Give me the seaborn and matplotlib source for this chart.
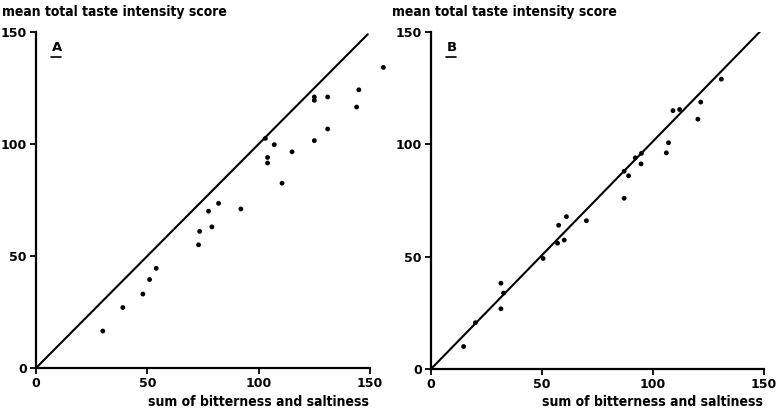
import matplotlib
matplotlib.use("Agg")
import matplotlib.pyplot as plt
import pandas as pd
import seaborn as sns
from matplotlib import font_manager

# panel A: observed points and the identity line
a_x = [30, 39, 48, 51, 54, 73, 73.5, 77.5, 79, 82, 92, 103, 104, 104, 107,
       110.5, 115, 125, 125, 125, 131, 131, 144, 145, 156]
a_y = [16.5, 27, 33, 39.5, 44.5, 55, 61, 70, 63, 73.5, 71, 102.5, 94, 91.5, 99.7,
       82.5, 96.5, 101.5, 121, 119.5, 121, 106.7, 116.5, 124.2, 134.2]
line_a_x = [0, 149]
line_a_y = [0, 149]

# panel B: points and fitted line
b_x = [14.7, 20, 31.5, 31.5, 32.7, 50.5, 57, 57.5, 60, 61, 70, 87, 87, 89,
       92, 94.6, 94.8, 106, 107, 109, 112, 120.2, 121.5, 130.8]
b_y = [10, 20.6, 26.8, 38.2, 33.8, 49.2, 56, 64, 57.4, 67.8, 66, 76, 88, 86,
       94, 91.3, 96, 96.2, 100.7, 115, 115.5, 111.2, 118.8, 129]
line_b_x = [0, 149]
line_b_y = [0, 151]

ticks = [0, 50, 100, 150]
y_title = "mean total taste intensity score"
x_title = "sum of bitterness and saltiness"

sns.set_style("ticks")
plt.rcParams["font.family"] = ["DejaVu Sans"]
plt.rcParams["text.color"] = "black"
plt.rcParams["xtick.color"] = "black"
plt.rcParams["ytick.color"] = "black"
plt.rcParams["axes.edgecolor"] = "black"

# narrow face for the titles if the condensed DejaVu file is there
cond = [f.fname for f in font_manager.fontManager.ttflist
        if f.fname.endswith("DejaVuSansCondensed-Bold.ttf")]
if cond:
    title_font = font_manager.FontProperties(fname=cond[0], size=10)
else:
    title_font = font_manager.FontProperties(family="DejaVu Sans", weight="bold", size=8.9)

fig = plt.figure(figsize=(7.79, 4.12), dpi=100)
W, H = 779, 412


def panel(rect, xs, ys, lx, ly, letter, title_x):
    left, bottom, right, top = rect
    ax = fig.add_axes([left / W, 1 - bottom / H, (right - left) / W, (bottom - top) / H])
    df = pd.DataFrame({"x": xs, "y": ys})
    sns.scatterplot(data=df, x="x", y="y", ax=ax, color="black", s=12,
                    edgecolor="none", clip_on=False)
    sns.lineplot(x=lx, y=ly, ax=ax, color="black", linewidth=1.5, sort=False)
    ax.set_xlim(0, 150)
    ax.set_ylim(0, 150)
    ax.set_xticks(ticks)
    ax.set_yticks(ticks)
    ax.set_xlabel("")
    ax.set_ylabel("")
    sns.despine(ax=ax)
    for s in ("left", "bottom"):
        ax.spines[s].set_linewidth(1.6)
    ax.tick_params(direction="out", length=4.5, width=1.3, labelsize=9, pad=2)
    for t in ax.get_xticklabels() + ax.get_yticklabels():
        t.set_fontweight("bold")
    ax.text(0.048, 0.955, letter, transform=ax.transAxes, fontsize=9.5,
            fontweight="bold", ha="left", va="center")
    ax.plot([0.046, 0.075], [0.927, 0.927], transform=ax.transAxes,
            color="black", linewidth=1.2)
    fig.text(title_x / W, 1 - 12 / H, y_title, fontproperties=title_font,
             ha="left", va="center")
    fig.text((right - 1) / W, 1 - 402 / H, x_title, fontproperties=title_font,
             ha="right", va="center")
    return ax


panel((36, 368, 370, 32), a_x, a_y, line_a_x, line_a_y, "A", 2)
panel((431, 369, 764, 32), b_x, b_y, line_b_x, line_b_y, "B", 392)

fig.savefig("out.png", dpi=100)
